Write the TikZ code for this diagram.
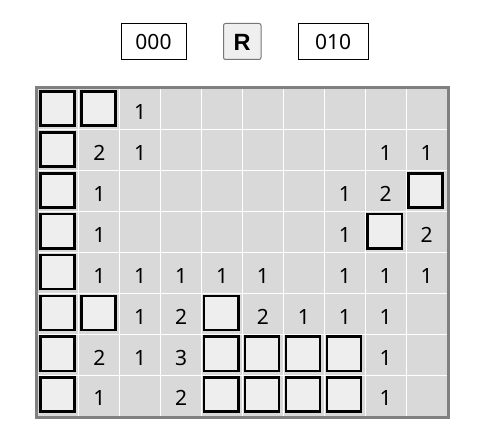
\documentclass[tikz,border=0pt]{standalone}
\usepackage{fontspec}
\setmainfont{Noto Sans}
\newfontfamily\rfont{Liberation Sans}
\definecolor{cellbg}{HTML}{D9D9D9}
\definecolor{coverbg}{HTML}{EEEEEE}
\definecolor{boardedge}{HTML}{808080}
\definecolor{btnfill}{HTML}{EFEFEF}
\definecolor{btnedge}{HTML}{767676}
\tikzset{
  counterbox/.style={draw=black, line width=1pt, fill=white},
  resetbtn/.style={draw=btnedge, line width=1pt, fill=btnfill, rounded corners=2pt},
  covered/.style={draw=black, line width=2.6pt, fill=coverbg},
  digit/.style={inner sep=0pt, anchor=base, font=\fontsize{21}{24}\selectfont},
  gridline/.style={draw=white, line width=1pt},
}
\begin{document}
\begin{tikzpicture}[x=1pt,y=-1pt]
\useasboundingbox (0,0) rectangle (481,441);
\fill[white] (0,0) rectangle (481,441);
% top widgets
\draw[counterbox] (121,23.5) rectangle (186,59.5);
\node[digit] (mines) at (153.5,50) {000};
\draw[resetbtn] (223.5,23.5) rectangle (261,59.5);
\node[digit, font=\rfont\bfseries\fontsize{23.5}{26}\selectfont] (reset) at (242.2,50.3) {R};
\draw[counterbox] (298.5,23.5) rectangle (368,59.5);
\node[digit] (timer) at (333.2,50) {010};
% board
\fill[cellbg] (38,89) rectangle (447,416);
\foreach \i in {1,...,9} \draw[gridline] ({38+40.9*\i},89) -- ({38+40.9*\i},416);
\foreach \j in {1,...,7} \draw[gridline] (38,{89+40.875*\j}) -- (447,{89+40.875*\j});
\draw[draw=boardedge, line width=3pt] (36.5,87.5) rectangle (448.5,417.5);
% covered cells
\foreach \r/\c in {0/0,0/1,1/0,2/0,2/9,3/0,3/8,4/0,5/0,5/1,5/4,6/0,6/4,6/5,6/6,6/7,7/0,7/4,7/5,7/6,7/7}
  \draw[covered] ({38+40.9*\c+2.5},{89+40.875*\r+2.5}) rectangle ({38+40.9*\c+36.6},{89+40.875*\r+36.6});
% numbers
\foreach \r/\c/\n in {0/2/1,
  1/1/2,1/2/1,1/8/1,1/9/1,
  2/1/1,2/7/1,2/8/2,
  3/1/1,3/7/1,3/9/2,
  4/1/1,4/2/1,4/3/1,4/4/1,4/5/1,4/7/1,4/8/1,4/9/1,
  5/2/1,5/3/2,5/5/2,5/6/1,5/7/1,5/8/1,
  6/1/2,6/2/1,6/3/3,6/8/1,
  7/1/1,7/3/2,7/8/1}
  \node[digit] (n\r-\c) at ({38+40.9*\c+20.45},{89+40.875*\r+30.8}) {\n};
\end{tikzpicture}
\end{document}
